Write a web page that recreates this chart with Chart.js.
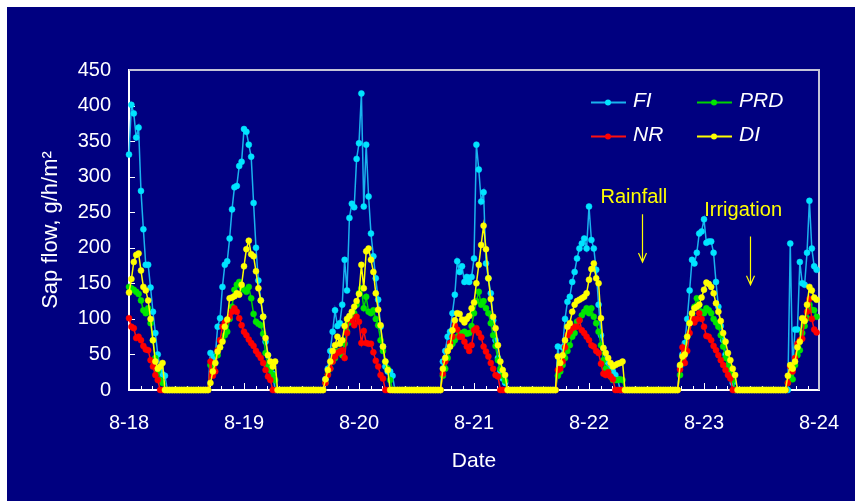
<!DOCTYPE html>
<html>
<head>
<meta charset="utf-8">
<script src="https://cdn.jsdelivr.net/npm/chart.js@4.4.0/dist/chart.umd.min.js"></script>
<style>
  html, body { margin: 0; padding: 0; background: #ffffff; overflow: hidden; }
  #wrap { position: absolute; left: 7px; top: 7px; width: 848px; height: 494px; background: #000080; }
  #chart { display: block; }
</style>
</head>
<body>
<div id="wrap"><canvas id="chart" width="848" height="494"></canvas></div>
<script>
// Sap flow, one reading every 30 min starting at the 8-18 tick (48 per day)
const dateLabels = ['8-18', '8-19', '8-20', '8-21', '8-22', '8-23', '8-24'];
const samplesPerDay = 48;

const fiValues = [
    331, 401, 389, 355, 369, 280, 226, 176, 176, 144, 110, 80, 50, 30, 22, 20,
    0, 0, 0, 0, 0, 0, 0, 0, 0, 0, 0, 0, 0, 0, 0, 0, 0, 0,
    52, 45, 47, 89, 101, 145, 176, 181, 213, 254, 285, 287, 315, 321, 367, 363, 345, 328, 263, 200, 154, 126, 103, 68, 49, 30, 23,
    0, 0, 0, 0, 0, 0, 0, 0, 0, 0, 0, 0, 0, 0, 0, 0, 0, 0, 0, 0, 0,
    15, 30, 55, 82, 112, 90, 94, 120, 183, 140, 242, 262, 257, 325, 347, 417, 258, 345, 272, 220, 188, 157, 127, 89, 61, 33, 26, 26, 20,
    0, 0, 0, 0, 0, 0, 0, 0, 0, 0, 0, 0, 0, 0, 0, 0, 0, 0, 0, 0,
    40, 55, 75, 82, 108, 134, 181, 166, 174, 152, 159, 152, 159, 185, 345, 310, 265, 278, 178, 157, 136, 98, 70, 45, 26, 16, 10,
    0, 0, 0, 0, 0, 0, 0, 0, 0, 0, 0, 0, 0, 0, 0, 0, 0, 0, 0, 0, 0,
    61, 33, 60, 100, 124, 131, 152, 166, 185, 199, 206, 213, 199, 258, 211, 199, 169, 120, 77, 59, 40, 30, 28, 26, 21, 15,
    0, 0, 0, 0, 0, 0, 0, 0, 0, 0, 0, 0, 0, 0, 0, 0, 0, 0, 0, 0, 0, 0, 0, 0, 0,
    33, 50, 66, 100, 140, 183, 178, 193, 220, 223, 240, 207, 209, 209, 193, 152, 117, 90, 70, 50, 30, 20, 10,
    0, 0, 0, 0, 0, 0, 0, 0, 0, 0, 0, 0, 0, 0, 0, 0, 0, 0, 0, 0, 0, 0, 0,
    206, 30, 85, 85, 180, 150, 148, 193, 266, 199, 174, 169
];

const prdValues = [
    145, 143, 141, 138, 135, 126, 112, 108, 115, 94, 70, 45, 26, 14, 10,
    0, 0, 0, 0, 0, 0, 0, 0, 0, 0, 0, 0, 0, 0, 0, 0, 0, 0, 0,
    35, 30, 38, 49, 60, 70, 77, 82, 100, 117, 141, 148, 152, 145, 141, 138, 145, 129, 107, 96, 93, 91, 79, 52, 35, 28, 21, 14,
    0, 0, 0, 0, 0, 0, 0, 0, 0, 0, 0, 0, 0, 0, 0, 0, 0, 0, 0, 0,
    10, 22, 30, 40, 45, 54, 55, 49, 65, 82, 95, 105, 108, 120, 136, 143, 115, 131, 110, 108, 112, 100, 91, 70, 55, 40, 30, 14,
    0, 0, 0, 0, 0, 0, 0, 0, 0, 0, 0, 0, 0, 0, 0, 0, 0, 0, 0, 0, 0,
    20, 30, 45, 61, 65, 70, 75, 80, 80, 82, 79, 80, 90, 108, 125, 138, 120, 125, 115, 108, 94, 77, 62, 42, 30, 20, 13,
    0, 0, 0, 0, 0, 0, 0, 0, 0, 0, 0, 0, 0, 0, 0, 0, 0, 0, 0, 0, 0,
    20, 26, 35, 45, 55, 63, 75, 80, 96, 98, 105, 110, 115, 108, 115, 103, 94, 82, 63, 42, 30, 26, 19, 14, 14, 14, 15, 14,
    0, 0, 0, 0, 0, 0, 0, 0, 0, 0, 0, 0, 0, 0, 0, 0, 0, 0, 0, 0, 0, 0, 0,
    21, 38, 55, 75, 94, 105, 117, 129, 120, 110, 108, 115, 112, 108, 100, 95, 89, 77, 61, 45, 34, 25, 14,
    0, 0, 0, 0, 0, 0, 0, 0, 0, 0, 0, 0, 0, 0, 0, 0, 0, 0, 0, 0, 0, 0,
    10, 21, 15, 35, 49, 56, 80, 90, 101, 120, 113, 112, 103
];

const nrValues = [
    101, 89, 87, 73, 75, 70, 62, 57, 56, 42, 33, 21, 14,
    0, 0, 0, 0, 0, 0, 0, 0, 0, 0, 0, 0, 0, 0, 0, 0, 0, 0, 0, 0, 0,
    40, 20, 26, 56, 70, 89, 95, 98, 103, 110, 115, 110, 101, 91, 82, 77, 71, 66, 62, 55, 50, 45, 38, 28, 19, 14,
    0, 0, 0, 0, 0, 0, 0, 0, 0, 0, 0, 0, 0, 0, 0, 0, 0, 0, 0, 0, 0, 0,
    10, 21, 30, 40, 47, 52, 54, 56, 45, 80, 103, 98, 91, 103, 96, 66, 83, 66, 65, 65, 53, 41, 33, 21, 16,
    0, 0, 0, 0, 0, 0, 0, 0, 0, 0, 0, 0, 0, 0, 0, 0, 0, 0, 0, 0, 0, 0, 0, 0,
    23, 40, 55, 66, 75, 91, 85, 75, 75, 68, 61, 55, 63, 84, 87, 80, 74, 61, 54, 47, 38, 30, 21, 19,
    0, 0, 0, 0, 0, 0, 0, 0, 0, 0, 0, 0, 0, 0, 0, 0, 0, 0, 0, 0, 0, 0, 0, 0,
    28, 30, 40, 60, 77, 82, 87, 89, 89, 98, 84, 80, 75, 70, 63, 61, 55, 52, 37, 23, 21, 25, 19, 15,
    0, 0, 0, 0, 0, 0, 0, 0, 0, 0, 0, 0, 0, 0, 0, 0, 0, 0, 0, 0, 0, 0, 0, 0, 0, 0, 0,
    29, 60, 38, 55, 80, 101, 95, 100, 108, 100, 89, 76, 75, 70, 62, 56, 49, 42, 35, 28, 21, 16,
    0, 0, 0, 0, 0, 0, 0, 0, 0, 0, 0, 0, 0, 0, 0, 0, 0, 0, 0, 0, 0, 0, 0,
    10, 33, 26, 45, 65, 70, 72, 100, 110, 128, 100, 85, 81
];

const diValues = [
    137, 156, 180, 190, 192, 168, 145, 140, 126, 100, 70, 40, 30, 33, 38,
    0, 0, 0, 0, 0, 0, 0, 0, 0, 0, 0, 0, 0, 0, 0, 0, 0, 0, 0,
    10, 26, 38, 54, 60, 68, 89, 99, 129, 130, 132, 136, 134, 148, 174, 198, 210, 191, 188, 167, 143, 126, 103, 73, 49, 40, 33, 40,
    0, 0, 0, 0, 0, 0, 0, 0, 0, 0, 0, 0, 0, 0, 0, 0, 0, 0, 0, 0,
    15, 28, 40, 55, 63, 75, 65, 70, 90, 100, 104, 110, 117, 125, 135, 176, 143, 195, 199, 183, 166, 136, 113, 91, 61, 40, 28,
    0, 0, 0, 0, 0, 0, 0, 0, 0, 0, 0, 0, 0, 0, 0, 0, 0, 0, 0, 0, 0, 0,
    30, 45, 55, 61, 84, 98, 108, 107, 99, 95, 100, 104, 115, 123, 150, 176, 204, 231, 198, 157, 128, 103, 87, 63, 40, 28, 21,
    0, 0, 0, 0, 0, 0, 0, 0, 0, 0, 0, 0, 0, 0, 0, 0, 0, 0, 0, 0, 0,
    47, 38, 49, 70, 89, 94, 110, 120, 125, 127, 129, 131, 136, 155, 170, 178, 157, 150, 101, 59, 52, 45, 38, 33, 35, 37, 38, 40,
    0, 0, 0, 0, 0, 0, 0, 0, 0, 0, 0, 0, 0, 0, 0, 0, 0, 0, 0, 0, 0, 0, 0,
    35, 47, 50, 75, 94, 108, 115, 117, 120, 130, 141, 151, 149, 145, 136, 122, 110, 97, 80, 68, 52, 42, 30, 21,
    0, 0, 0, 0, 0, 0, 0, 0, 0, 0, 0, 0, 0, 0, 0, 0, 0, 0, 0, 0, 0,
    20, 35, 30, 40, 60, 68, 101, 97, 120, 145, 140, 130, 127
];

// text notes on the plot: [label, textX (day), textY (value), arrowX (day), arrowFrom, arrowTo]
const notes = [
    ['Rainfall', 4.39, 271, 4.46, 247, 180],
    ['Irrigation', 5.34, 253, 5.40, 216, 148]
];

const FONT = "'Liberation Sans', Arial, sans-serif";
Chart.defaults.font.family = FONT;

function toPoints(values) {
    return values.map((v, i) => ({ x: i / samplesPerDay, y: v }));
}

function makeSeries(label, values, lineColor, dotColor, order) {
    return {
        label: label,
        data: toPoints(values),
        borderColor: lineColor,
        backgroundColor: dotColor,
        pointBackgroundColor: dotColor,
        pointBorderColor: dotColor,
        pointBorderWidth: 0.5,
        pointRadius: 3,
        borderWidth: 1.5,
        tension: 0,
        clip: false,
        order: order
    };
}

// inward tick marks plus the grey top/right frame
const frameTicks = {
    id: 'frameTicks',
    beforeDatasetsDraw(chart) {
        const { ctx, chartArea: a, scales: { x, y } } = chart;
        ctx.save();
        ctx.strokeStyle = '#c4c4d8';
        ctx.lineWidth = 2;
        ctx.beginPath();
        ctx.moveTo(a.left, a.top);
        ctx.lineTo(a.right, a.top);
        ctx.lineTo(a.right, a.bottom);
        ctx.stroke();

        ctx.strokeStyle = '#ffffff';
        ctx.lineWidth = 1;
        ctx.beginPath();
        for (let k = 1; k < 60; k++) {
            const px = Math.round(x.getPixelForValue(k / 10)) + 0.5;
            const len = k % 10 === 0 ? 7 : 4;
            ctx.moveTo(px, a.bottom);
            ctx.lineTo(px, a.bottom - len);
        }
        for (let v = 50; v < 450; v += 50) {
            const py = Math.round(y.getPixelForValue(v)) + 0.5;
            ctx.moveTo(a.left, py);
            ctx.lineTo(a.left + 6, py);
        }
        ctx.stroke();
        ctx.restore();
    },
    afterDatasetsDraw(chart) {
        const { ctx, scales: { x, y } } = chart;
        ctx.save();
        // notes with arrows
        ctx.fillStyle = '#ffff00';
        ctx.strokeStyle = '#ffff00';
        ctx.lineWidth = 1.2;
        ctx.font = '20px ' + FONT;
        ctx.textAlign = 'center';
        ctx.textBaseline = 'middle';
        notes.forEach(n => {
            ctx.fillText(n[0], x.getPixelForValue(n[1]), y.getPixelForValue(n[2]));
            const ax = Math.round(x.getPixelForValue(n[3])) + 0.5;
            const y0 = y.getPixelForValue(n[4]);
            const y1 = y.getPixelForValue(n[5]);
            ctx.beginPath();
            ctx.moveTo(ax, y0);
            ctx.lineTo(ax, y1);
            ctx.moveTo(ax - 4, y1 - 9);
            ctx.lineTo(ax, y1);
            ctx.lineTo(ax + 4, y1 - 9);
            ctx.stroke();
        });

        // legend, two columns
        ctx.font = 'italic 21px ' + FONT;
        ctx.textAlign = 'left';
        const spots = [[584, 95.5], [690, 95.5], [584, 129.5], [690, 129.5]];
        chart.data.datasets.forEach((ds, i) => {
            const [lx, ly] = spots[i];
            ctx.strokeStyle = ds.borderColor;
            ctx.lineWidth = 2;
            ctx.beginPath();
            ctx.moveTo(lx, ly);
            ctx.lineTo(lx + 35, ly);
            ctx.stroke();
            ctx.fillStyle = ds.pointBackgroundColor;
            ctx.beginPath();
            ctx.arc(lx + 17, ly, 3, 0, Math.PI * 2);
            ctx.fill();
            ctx.fillStyle = '#ffffff';
            ctx.fillText(ds.label, lx + 42, ly - 1);
        });
        ctx.restore();
    }
};

new Chart(document.getElementById('chart'), {
    type: 'line',
    data: {
        datasets: [
            makeSeries('FI', fiValues, '#1ab2ee', '#00e4ff', 3),
            makeSeries('PRD', prdValues, '#00d200', '#00e600', 2),
            makeSeries('NR', nrValues, '#ff1010', '#ff0000', 1),
            makeSeries('DI', diValues, '#ffff00', '#ffff00', 0)
        ]
    },
    options: {
        responsive: false,
        animation: false,
        devicePixelRatio: 1,
        layout: { padding: { left: 0, top: 63, right: 36, bottom: 0 } },
        plugins: { legend: { display: false }, tooltip: { enabled: false } },
        scales: {
            x: {
                type: 'linear',
                min: 0,
                max: 6,
                afterFit(scale) {
                    scale.height = 111;
                    scale.paddingLeft = 0;
                    scale.paddingRight = 0;
                },
                grid: { display: false, drawTicks: false },
                border: { display: true, color: '#ffffff', width: 2 },
                ticks: {
                    stepSize: 1,
                    autoSkip: false,
                    maxRotation: 0,
                    color: '#ffffff',
                    padding: 21,
                    font: { size: 20 },
                    callback: v => dateLabels[v]
                },
                title: {
                    display: true,
                    text: 'Date',
                    color: '#ffffff',
                    font: { size: 21 },
                    padding: { top: 0, bottom: 27 }
                }
            },
            y: {
                min: 0,
                max: 450,
                afterFit(scale) { scale.width = 122; },
                grid: { display: false, drawTicks: false },
                border: { display: true, color: '#ffffff', width: 2 },
                ticks: {
                    stepSize: 50,
                    color: '#ffffff',
                    padding: 18,
                    font: { size: 20 }
                },
                title: {
                    display: true,
                    text: 'Sap flow, g/h/m\u00B2',
                    color: '#ffffff',
                    font: { size: 22 },
                    padding: { top: 31, bottom: 0 }
                }
            }
        }
    },
    plugins: [frameTicks]
});
</script>
</body>
</html>
